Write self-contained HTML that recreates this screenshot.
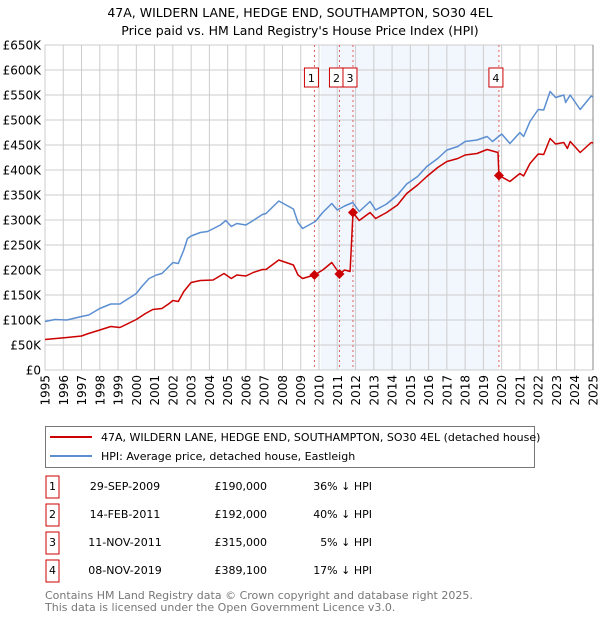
<!DOCTYPE html>
<html><head><meta charset="utf-8"><style>
body{margin:0;background:#fff;font-family:"DejaVu Sans","Liberation Sans",sans-serif;}
svg text{font-family:"DejaVu Sans","Liberation Sans",sans-serif;}
</style></head><body>
<svg id="chart" width="600" height="620" xmlns="http://www.w3.org/2000/svg">
<text x="300" y="17" font-size="12.5" text-anchor="middle" fill="#000">47A, WILDERN LANE, HEDGE END, SOUTHAMPTON, SO30 4EL</text>
<text x="300" y="35" font-size="12.5" text-anchor="middle" fill="#000">Price paid vs. HM Land Registry's House Price Index (HPI)</text>
<g id="plot"></g>
<g>
<rect x="45.5" y="426.5" width="489" height="41" fill="#fff" stroke="#777"/>
<line x1="50" y1="437" x2="92" y2="437" stroke="#cc0000" stroke-width="2"/>
<text x="101" y="441" font-size="11">47A, WILDERN LANE, HEDGE END, SOUTHAMPTON, SO30 4EL (detached house)</text>
<line x1="50" y1="456" x2="92" y2="456" stroke="#5b8fd1" stroke-width="2"/>
<text x="101" y="460" font-size="11">HPI: Average price, detached house, Eastleigh</text>
</g>
<g id="table"></g>
<text x="45" y="599" font-size="11" fill="#777">Contains HM Land Registry data © Crown copyright and database right 2025.</text>
<text x="45" y="611" font-size="11" fill="#777">This data is licensed under the Open Government Licence v3.0.</text>
</svg>
<script>
const yTicks=[0,50000,100000,150000,200000,250000,300000,350000,400000,450000,500000,550000,600000,650000];
const yTickLabels=["£0","£50K","£100K","£150K","£200K","£250K","£300K","£350K","£400K","£450K","£500K","£550K","£600K","£650K"];
const xYears=[1995,1996,1997,1998,1999,2000,2001,2002,2003,2004,2005,2006,2007,2008,2009,2010,2011,2012,2013,2014,2015,2016,2017,2018,2019,2020,2021,2022,2023,2024,2025];
const hpiDates=[1995.0,1995.55,1996.2,1997.0,1997.4,1998.0,1998.6,1999.1,2000.0,2000.3,2000.7,2001.1,2001.4,2002.0,2002.3,2002.6,2002.8,2003.0,2003.5,2003.9,2004.6,2004.9,2005.2,2005.5,2006.0,2006.4,2006.9,2007.1,2007.8,2008.2,2008.6,2008.85,2009.1,2009.8,2010.2,2010.7,2011.0,2011.4,2011.85,2012.2,2012.8,2013.1,2013.7,2014.3,2014.8,2015.4,2015.9,2016.5,2017.0,2017.6,2018.0,2018.65,2019.2,2019.5,2020.0,2020.45,2021.0,2021.2,2021.55,2022.0,2022.3,2022.65,2022.95,2023.4,2023.5,2023.75,2024.3,2024.9,2025.0];
const hpiValues=[97000,101000,100000,107000,110000,123000,132000,132000,153000,167000,183000,190000,193000,215000,213000,240000,263000,268000,275000,277000,290000,299000,287000,293000,290000,299000,311000,313000,338000,330000,322000,295000,283000,297000,315000,333000,320000,328000,335000,317000,337000,320000,332000,350000,372000,387000,407000,423000,440000,447000,457000,460000,467000,457000,472000,453000,475000,467000,497000,521000,520000,557000,545000,550000,535000,550000,521000,548000,546000];
const priceDates=[1995.0,1996.2,1997.0,1997.3,1998.0,1998.6,1999.1,2000.0,2000.5,2000.9,2001.4,2001.8,2002.0,2002.3,2002.6,2003.0,2003.5,2004.2,2004.8,2005.2,2005.5,2006.0,2006.4,2006.9,2007.1,2007.8,2008.2,2008.6,2008.85,2009.1,2009.75,2010.2,2010.7,2011.0,2011.12,2011.4,2011.7,2011.86,2012.2,2012.8,2013.1,2013.7,2014.3,2014.8,2015.4,2015.9,2016.5,2017.0,2017.6,2018.0,2018.65,2019.2,2019.8,2019.85,2020.45,2021.0,2021.2,2021.55,2022.0,2022.3,2022.65,2022.95,2023.4,2023.6,2023.75,2024.3,2024.9,2025.0];
const priceValues=[61000,65000,68000,72000,80000,87000,85000,101000,113000,121000,123000,133000,139000,137000,157000,175000,179000,180000,193000,183000,190000,188000,195000,201000,201000,220000,215000,210000,190000,183000,190000,200000,215000,199000,192000,200000,197000,315000,299000,315000,303000,315000,330000,353000,370000,387000,405000,417000,423000,430000,433000,441000,435000,389100,377000,393000,388000,413000,432000,431000,463000,452000,455000,443000,457000,435000,455000,454000];
const saleLabels=["1","2","3","4"];
const saleDates=[2009.75,2011.12,2011.86,2019.85];
const salePrices=[190000,192000,315000,389100];
const saleDateText=["29-SEP-2009","14-FEB-2011","11-NOV-2011","08-NOV-2019"];
const salePriceText=["£190,000","£192,000","£315,000","£389,100"];
const saleDiffText=["36% ↓ HPI","40% ↓ HPI","5% ↓ HPI","17% ↓ HPI"];
const shadeStart=2010.1, shadeEnd=2019.85;

const X0=45,X1=593,Y0=370,Y1=45;
const xs=t=>X0+(t-1995)/30*(X1-X0);
const ys=v=>Y0-v/650000*(Y0-Y1);
const NS="http://www.w3.org/2000/svg";
function mk(parent,tag,attrs,txt){const e=document.createElementNS(NS,tag);for(const k in attrs)e.setAttribute(k,attrs[k]);if(txt!==undefined)e.textContent=txt;parent.appendChild(e);return e;}
const plot=document.getElementById('plot');
const shade=mk(plot,'rect',{x:xs(shadeStart),y:Y1,width:xs(shadeEnd)-xs(shadeStart),height:Y0-Y1,fill:'#eef3fc',opacity:0.75});


yTicks.forEach((v,i)=>{
  const g=mk(plot,'line',{x1:X0,x2:X1,y1:ys(v),y2:ys(v),stroke:'#cccccc','stroke-width':1});
  
  
  const t=mk(plot,'text',{x:X0-4,y:ys(v)+4.5,'font-size':12,'text-anchor':'end',fill:'#000'},yTickLabels[i]);
  
  
});
xYears.forEach(yr=>{
  const g=mk(plot,'line',{x1:xs(yr),x2:xs(yr),y1:Y1,y2:Y0,stroke:'#cccccc','stroke-width':1});
  
  
  const t=mk(plot,'text',{x:0,y:0,'font-size':12,'text-anchor':'end',transform:`translate(${xs(yr)+4.5},375) rotate(-90)`},String(yr));
  
  
});
const ax=mk(plot,'line',{x1:X1,x2:X1,y1:Y1,y2:Y0,stroke:'#888','stroke-width':1});


saleDates.forEach((d,i)=>{
  const l=mk(plot,'line',{x1:xs(d),x2:xs(d),y1:Y1,y2:Y0,stroke:'#e06060','stroke-width':1,'stroke-dasharray':'2,3'});
  
  
});
function path(ds,vs,color,name){
  const d=ds.map((t,i)=>(i?'L':'M')+xs(t).toFixed(1)+','+ys(vs[i]).toFixed(1)).join(' ');
  const p=mk(plot,'path',{d:d,fill:'none',stroke:color,'stroke-width':1.5,'stroke-linejoin':'round'});
  
  
}
path(hpiDates,hpiValues,'#5b8fd1','hpi-line');
path(priceDates,priceValues,'#cc0000','price-paid-line');
saleDates.forEach((d,i)=>{
  const cx=xs(d),cy=ys(salePrices[i]);
  const m=mk(plot,'path',{d:`M${cx},${cy-5}L${cx+5},${cy}L${cx},${cy+5}L${cx-5},${cy}Z`,fill:'#cc0000'});
  
  
  const bx=cx-3;
  const r=mk(plot,'rect',{x:bx-7,y:68,width:14,height:19,fill:'#fff',stroke:'#cc0000','stroke-width':1});
  
  
  const t=mk(plot,'text',{x:bx,y:82,'font-size':11,'text-anchor':'middle'},saleLabels[i]);
  
  
});
const table=document.getElementById('table');
saleLabels.forEach((lab,i)=>{
  const y=485+i*28;
  const r=mk(table,'rect',{x:46,y:y-9,width:13,height:22,fill:'#fff',stroke:'#cc0000','stroke-width':1});
  
  
  const a=mk(table,'text',{x:52.5,y:y+5,'font-size':11,'text-anchor':'middle'},lab);
  
  
  const b=mk(table,'text',{x:125,y:y+5,'font-size':11,'text-anchor':'middle'},saleDateText[i]);
  
  
  const c=mk(table,'text',{x:267,y:y+5,'font-size':11,'text-anchor':'end'},salePriceText[i]);
  
  
  const e=mk(table,'text',{x:372,y:y+5,'font-size':11,'text-anchor':'end'},saleDiffText[i]);
  
  
});
</script>
</body></html>
